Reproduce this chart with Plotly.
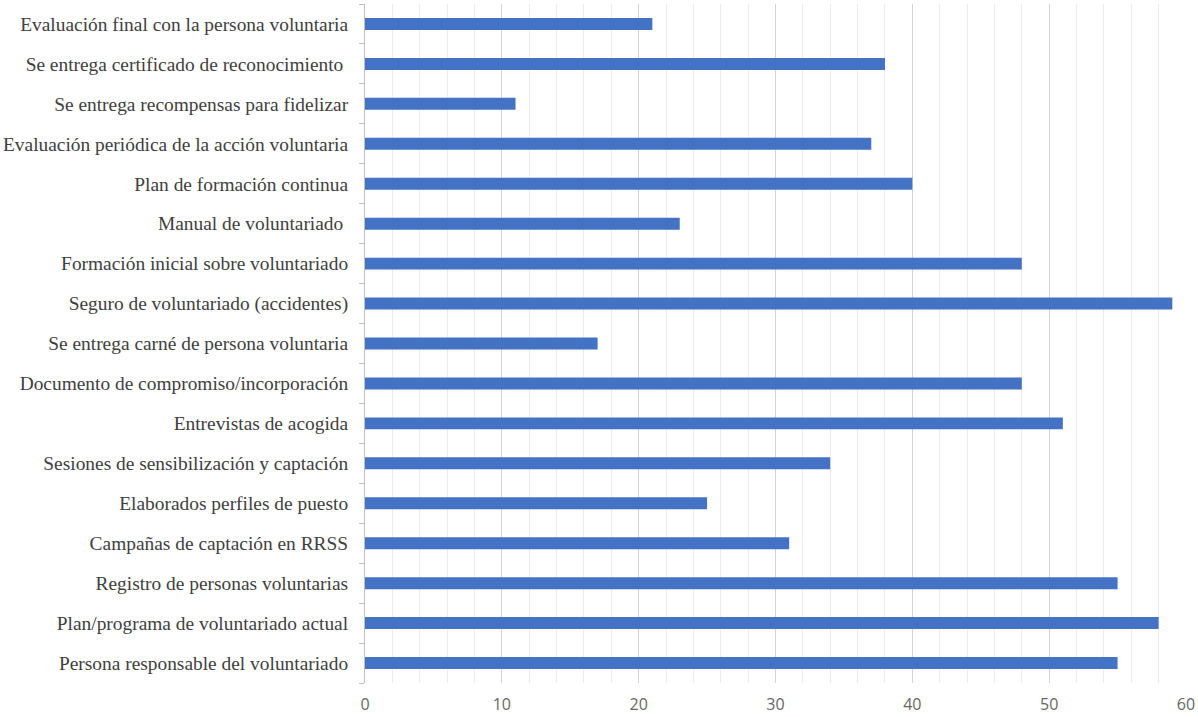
import plotly.graph_objects as go

categories = [
    "Evaluación final con la persona voluntaria",
    "Se entrega certificado de reconocimiento ",
    "Se entrega recompensas para fidelizar",
    "Evaluación periódica de la acción voluntaria",
    "Plan de formación continua",
    "Manual de voluntariado ",
    "Formación inicial sobre voluntariado",
    "Seguro de voluntariado (accidentes)",
    "Se entrega carné de persona voluntaria",
    "Documento de compromiso/incorporación",
    "Entrevistas de acogida",
    "Sesiones de sensibilización y captación",
    "Elaborados perfiles de puesto",
    "Campañas de captación en RRSS",
    "Registro de personas voluntarias",
    "Plan/programa de voluntariado actual",
    "Persona responsable del voluntariado",
]
values = [21, 38, 11, 37, 40, 23, 48, 59, 17, 48, 51, 34, 25, 31, 55, 58, 55]
x_ticks = [0, 10, 20, 30, 40, 50, 60]

fig = go.Figure(go.Bar(
    x=values,
    y=categories,
    orientation="h",
    marker=dict(color="#4472C4", line=dict(width=0)),
    width=0.3,
))

fig.update_layout(
    width=1198,
    height=717,
    margin=dict(l=365, r=12, t=4, b=34),
    plot_bgcolor="white",
    paper_bgcolor="white",
    showlegend=False,
)
fig.update_xaxes(
    range=[0, 60],
    tickvals=x_ticks,
    showgrid=True,
    gridcolor="#d4d4d4",
    gridwidth=1.3,
    minor=dict(dtick=2, showgrid=True, gridcolor="#ececec", gridwidth=1),
    zeroline=False,
    showline=False,
    tickfont=dict(family="Open Sans, Liberation Sans, sans-serif", size=16, color="#666666"),
    ticks="",
    ticklabelstandoff=10,
    automargin=False,
)
fig.update_yaxes(
    categoryorder="array",
    categoryarray=categories[::-1],
    showline=True,
    linecolor="#bfbfbf",
    linewidth=1,
    ticks="outside",
    tickson="boundaries",
    ticklen=5,
    tickcolor="#bfbfbf",
    showgrid=False,
    tickfont=dict(family="Liberation Serif, Times New Roman, serif", size=19.4, color="#404040"),
    ticklabelstandoff=12,
    automargin=False,
)

fig.write_html("out.html", config={"displayModeBar": False},
               post_script="document.body.style.margin='0';")
